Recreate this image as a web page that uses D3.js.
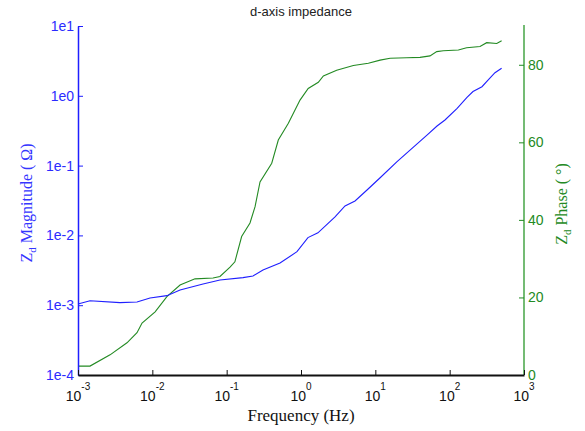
<!DOCTYPE html>
<html>
<head>
<meta charset="utf-8">
<script src="https://cdn.jsdelivr.net/npm/d3@7"></script>
<style>
  body { margin: 0; background: #fff; }
  svg { display: block; }
</style>
</head>
<body>
<div id="chart"></div>
<script>
// --- data ---
const magFreq = [0.001, 0.00145, 0.00367, 0.00622, 0.00931, 0.0157, 0.0236, 0.0481, 0.0813,
    0.166, 0.226, 0.308, 0.522, 0.883, 1.24, 1.69, 2.87, 3.91, 5.33, 7.73, 11.6, 19.6, 29.3,
    49.5, 67.6, 86.5, 126, 171, 206, 272, 328, 407, 500];
const magValues = [0.00104, 0.00116, 0.00109, 0.00111, 0.00127, 0.00137, 0.00165, 0.00201, 0.0023,
    0.00248, 0.00262, 0.00319, 0.00402, 0.00584, 0.0093, 0.0109, 0.0184, 0.0264, 0.0311, 0.0447,
    0.067, 0.114, 0.167, 0.274, 0.369, 0.45, 0.662, 0.953, 1.15, 1.35, 1.68, 2.14, 2.48];

const phaseFreq = [0.001, 0.00145, 0.0027, 0.00456, 0.00622, 0.00727, 0.0109, 0.0157, 0.0236,
    0.0375, 0.0655, 0.0813, 0.111, 0.129, 0.159, 0.206, 0.241, 0.281, 0.404, 0.495, 0.676,
    0.97, 1.25, 1.71, 2.0, 3.02, 5.06, 8.05, 11.6, 15.8, 26.4, 39.9, 54.4, 67.0, 82.2, 131,
    169, 256, 315, 430, 500];
const phaseValues = [2.3, 2.3, 5.2, 8.3, 10.9, 13.4, 16.3, 20.2, 23.2,
    24.8, 25.0, 25.4, 27.8, 29.2, 35.7, 39.2, 43.4, 49.8, 54.6, 60.6, 64.9,
    70.9, 73.9, 75.5, 77.1, 78.6, 79.8, 80.4, 81.2, 81.7, 81.8, 81.9, 82.3, 83.4, 83.6, 83.8,
    84.4, 84.7, 85.7, 85.5, 86.2];

const freqTicks = [1e-3, 1e-2, 1e-1, 1e0, 1e1, 1e2, 1e3];
const magTicks = [1e-4, 1e-3, 1e-2, 1e-1, 1e0, 1e1];
const phaseTicks = [0, 20, 40, 60, 80];

// --- layout ---
const W = 585, H = 431;
const plotL = 78, plotR = 524, plotT = 26, plotB = 375;

const blue = "#1f1fff";
const green = "#238a23";
const sans = "'Liberation Sans', Arial, sans-serif";
const serif = "'Liberation Serif', 'Times New Roman', serif";

const svg = d3.select("#chart").append("svg")
    .attr("width", W)
    .attr("height", H);

const x = d3.scaleLog().domain([1e-3, 1e3]).range([plotL, plotR]);
const yMag = d3.scaleLog().domain([1e-4, 1e1]).range([plotB, plotT]);
const yPh = d3.scaleLinear().domain([0, 90]).range([plotB, plotT]);

// minor tick values for log scales
function minors(lo, hi) {
    const out = [];
    for (let e = lo; e < hi; e++) {
        for (let k = 2; k <= 9; k++) out.push(k * Math.pow(10, e));
    }
    return out;
}

// --- title ---
svg.append("text")
    .attr("x", 301).attr("y", 16)
    .attr("text-anchor", "middle")
    .style("font-family", sans).style("font-size", "13px").style("fill", "#222")
    .text("d-axis impedance");

// --- curves ---
const magLine = d3.line().x(d => x(d[0])).y(d => yMag(d[1]));
const phLine = d3.line().x(d => x(d[0])).y(d => yPh(d[1]));

svg.append("path")
    .datum(d3.zip(phaseFreq, phaseValues))
    .attr("d", phLine)
    .attr("fill", "none")
    .attr("stroke", green)
    .attr("stroke-width", 1.1);

svg.append("path")
    .datum(d3.zip(magFreq, magValues))
    .attr("d", magLine)
    .attr("fill", "none")
    .attr("stroke", blue)
    .attr("stroke-width", 1.1);

// --- left axis (magnitude) ---
const gL = svg.append("g").attr("transform", `translate(${plotL},0)`);
gL.call(d3.axisLeft(yMag).tickValues(minors(-4, 1)).tickSizeInner(-3).tickSizeOuter(0).tickFormat(""));
gL.call(d3.axisLeft(yMag).tickValues(magTicks).tickSizeInner(-5).tickSizeOuter(0).tickPadding(4)
    .tickFormat(d => "1e" + Math.round(Math.log10(d))));
gL.selectAll("path.domain").attr("stroke", blue).attr("stroke-width", 1.5);
gL.selectAll("line").attr("stroke", blue);
gL.selectAll("text").style("font-family", sans).style("font-size", "14px").style("fill", "#2b2bff");

// --- right axis (phase) ---
const gR = svg.append("g").attr("transform", `translate(${plotR},0)`);
gR.call(d3.axisRight(yPh).tickValues(phaseTicks).tickSizeInner(-5).tickSizeOuter(0).tickPadding(4));
gR.select("path.domain").attr("stroke", "#74bb74").attr("stroke-width", 2)
    .attr("d", `M0,${plotT - 1}V${plotB}`);
gR.selectAll("line").attr("stroke", green);
gR.selectAll("text").style("font-family", sans).style("font-size", "14px").style("fill", green);

// --- bottom axis (frequency) ---
const gB = svg.append("g").attr("transform", `translate(0,${plotB})`);
gB.call(d3.axisBottom(x).tickValues(minors(-3, 3)).tickSizeInner(-3).tickSizeOuter(0).tickFormat(""));
gB.call(d3.axisBottom(x).tickValues(freqTicks).tickSizeInner(-5).tickSizeOuter(0).tickFormat(""));
gB.selectAll("path.domain").attr("stroke", "#111").attr("stroke-width", 2);
gB.selectAll("line").attr("stroke", "#111");
gB.selectAll(".tick text").remove();

gB.selectAll("text.flabel")
    .data(freqTicks)
    .enter()
    .append("text")
    .attr("class", "flabel")
    .attr("x", d => x(d))
    .attr("y", 26)
    .attr("text-anchor", "middle")
    .style("font-family", sans).style("font-size", "14px").style("fill", "#111")
    .each(function(d) {
        const t = d3.select(this);
        t.append("tspan").text("10");
        t.append("tspan").attr("dy", -11).style("font-size", "10px")
            .text(Math.round(Math.log10(d)));
    });

// --- axis titles ---
svg.append("text")
    .attr("x", 301).attr("y", 421)
    .attr("text-anchor", "middle")
    .style("font-family", serif).style("font-size", "17px").style("fill", "#111")
    .text("Frequency (Hz)");

const magTitle = svg.append("text")
    .attr("transform", "translate(32,203) rotate(-90)")
    .attr("text-anchor", "middle")
    .style("font-family", serif).style("font-size", "16px").style("fill", "#3535ff");
magTitle.append("tspan").text("Z");
magTitle.append("tspan").attr("dy", 4).style("font-size", "11px").text("d");
magTitle.append("tspan").attr("dy", -4).text(" Magnitude ( \u03A9)");

const phTitle = svg.append("text")
    .attr("transform", "translate(567,204) rotate(-90)")
    .attr("text-anchor", "middle")
    .style("font-family", serif).style("font-size", "16px").style("fill", green);
phTitle.append("tspan").text("Z");
phTitle.append("tspan").attr("dy", 4).style("font-size", "11px").text("d");
phTitle.append("tspan").attr("dy", -4).text(" Phase ( \u00B0)");
</script>
</body>
</html>
